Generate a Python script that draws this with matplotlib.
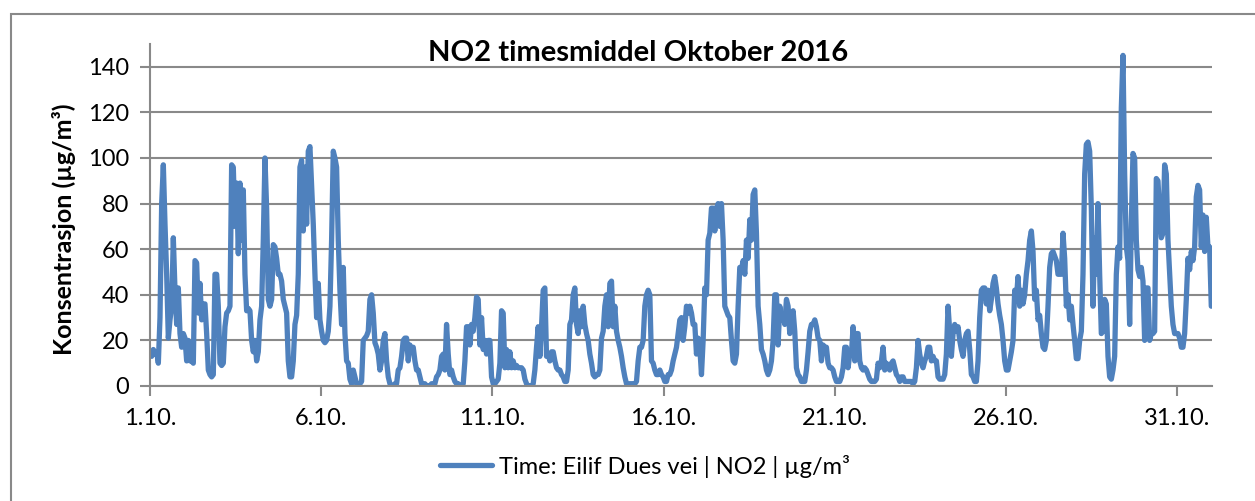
import numpy as np
import matplotlib

matplotlib.use("Agg")
import matplotlib.pyplot as plt
from matplotlib.patches import Rectangle


# Дані: NO2 (µg/m³), зчитані з графіка приблизно кожні 1.17 год
no2_part1 = [
    14, 13, 16, 14, 15, 10, 30, 80, 97, 71, 49, 21, 29, 35, 65, 42, 27, 43, 23, 17,
    23, 21, 11, 20, 11, 11, 10, 55, 54, 32, 45, 29, 36, 36, 23, 7, 5, 4, 5, 49,
    49, 35, 10, 9, 10, 26, 32, 33, 35, 97, 96, 70, 89, 58, 89, 64, 86, 49, 33, 34,
    33, 20, 15, 20, 11, 15, 29, 35, 64, 100, 78, 38, 35, 38, 62, 61, 56, 49, 49, 46,
    38, 35, 32, 11, 4, 4, 11, 27, 31, 49, 96, 99, 68, 96, 71, 103,
]
no2_part2 = [
    105, 88, 71, 49, 30, 45, 29, 24, 20, 19, 20, 24, 35, 64, 103, 100, 96, 64, 42, 27,
    52, 23, 11, 10, 3, 1, 7, 4, 1, 1, 1, 2, 20, 21, 22, 24, 38, 40, 32, 19,
    17, 14, 7, 11, 20, 23, 11, 4, 1, 0, 0, 1, 1, 7, 8, 13, 20, 21, 21, 11,
    18, 15, 17, 11, 7, 7, 4, 1, 1, 1, 0, 0, 0, 1, 0, 1, 4, 5, 7, 13,
    14, 7, 27, 14, 5, 7, 4, 2, 1, 1, 0, 0, 1, 11, 26, 26, 18, 27, 24, 30,
    39, 38, 18, 30, 16, 20, 14, 20, 20, 4, 1, 1, 2, 3,
]
no2_part3 = [
    10, 33, 32, 8, 16, 8, 15, 8, 11, 8, 9, 8, 8, 8, 7, 3, 1, 0, 0, 0,
    1, 7, 17, 26, 13, 26, 42, 43, 13, 14, 11, 15, 15, 11, 8, 7, 7, 5, 4, 2,
    2, 7, 27, 29, 40, 43, 27, 23, 33, 26, 35, 27, 23, 20, 14, 10, 5, 4, 5, 5,
    7, 21, 24, 35, 40, 26, 45, 46, 26, 35, 24, 20, 17, 13, 8, 4, 1, 1, 1, 1,
    1, 1, 2, 11, 17, 17, 20, 35, 40, 42, 40, 11, 10, 7, 5, 5, 7, 5, 4, 2,
    2, 5, 5, 7, 11, 14, 17, 23, 29, 30, 20, 26, 35, 32,
]
no2_part4 = [
    35, 32, 27, 27, 14, 21, 17, 5, 20, 43, 40, 64, 67, 78, 78, 68, 78, 80, 70, 80,
    64, 35, 33, 31, 30, 20, 11, 10, 14, 35, 52, 51, 55, 49, 64, 56, 73, 64, 84, 86,
    67, 35, 27, 16, 14, 11, 7, 5, 7, 11, 20, 40, 40, 18, 35, 29, 31, 27, 38, 35,
    23, 29, 33, 24, 8, 5, 4, 2, 2, 2, 7, 15, 24, 27, 27, 29, 26, 21, 20, 11,
    18, 17, 17, 10, 8, 8, 7, 4, 2, 2, 2, 4, 8, 17, 17, 8, 14, 14, 26, 11,
    23, 23, 11, 8, 7, 8, 7, 5, 3, 2, 2, 2, 3, 10,
]
no2_part5 = [
    8, 11, 17, 7, 10, 8, 7, 10, 11, 8, 5, 4, 2, 4, 4, 2, 2, 2, 2, 2,
    1, 2, 8, 20, 14, 10, 8, 11, 13, 17, 17, 11, 13, 11, 11, 4, 3, 3, 3, 5,
    14, 35, 24, 13, 23, 27, 24, 26, 20, 16, 13, 20, 23, 24, 16, 5, 4, 2, 2, 11,
    30, 42, 43, 43, 36, 42, 33, 38, 45, 48, 43, 36, 31, 27, 20, 11, 7, 7, 11, 15,
    20, 42, 38, 48, 35, 42, 36, 40, 49, 55, 64, 68, 59, 38, 42, 29, 31, 23, 17, 16,
    20, 35,
]
no2_part6 = [
    52, 58, 59, 57, 55, 49, 49, 49, 67, 56, 35, 40, 29, 35, 27, 20, 12, 12, 20, 24,
    49, 93, 106, 107, 103, 78, 35, 65, 49, 80, 49, 23, 24, 38, 36, 13, 4, 3, 7, 13,
    49, 61, 56, 122, 145, 93, 61, 55, 27, 71, 102, 100, 64, 51, 48, 52, 46, 20, 43, 43,
    20, 23, 23, 24, 91, 90, 75, 65, 67, 97, 93, 64, 49, 35, 27, 23, 23, 23, 21, 17,
    17, 23, 38, 56, 51, 59, 55, 61, 83, 88, 86, 61, 75, 59, 74, 61, 61, 35,
]

tick_hours = [0, 120, 240, 360, 480, 600, 720]
tick_labels = ["1.10.", "6.10.", "11.10.", "16.10.", "21.10.", "26.10.", "31.10."]
y_ticks = [0, 20, 40, 60, 80, 100, 120, 140]

title = "NO2 timesmiddel Oktober 2016"
y_label = "Konsentrasjon (µg/m³)"
legend_label = "Time: Eilif Dues vei | NO2 | µg/m³"

LINE_COLOR = "#4F81BD"
GRID_COLOR = "#898989"
FONT = ["Lato", "DejaVu Sans"]


def build_series():
    values = no2_part1 + no2_part2 + no2_part3 + no2_part4 + no2_part5 + no2_part6
    hours = np.linspace(0, 744, len(values))
    return hours, np.array(values)


def draw_chart(hours, values):
    plt.rcParams["font.family"] = FONT
    W, H = 1255, 501
    fig = plt.figure(figsize=(W / 100, H / 100), dpi=100)

    # рамка області діаграми
    fig.patches.append(
        Rectangle((11 / W, -0.1), 1.2, 1 - 14 / H + 0.1, transform=fig.transFigure,
                  fill=False, edgecolor=GRID_COLOR, linewidth=1.5)
    )

    ax = fig.add_axes([150 / W, 1 - 386 / H, (1212 - 150) / W, (386 - 44) / H])
    ax.plot(hours, values, color=LINE_COLOR, linewidth=3.8,
            solid_joinstyle="round", solid_capstyle="round", label=legend_label)

    ax.set_xlim(0, 744.5)
    ax.set_ylim(0, 150)
    ax.set_yticks(y_ticks)
    ax.set_xticks(tick_hours)
    ax.set_xticklabels(tick_labels)

    ax.grid(axis="y", color=GRID_COLOR, linewidth=1.5)
    ax.set_axisbelow(True)
    for side in ["top", "right"]:
        ax.spines[side].set_visible(False)
    for side in ["left", "bottom"]:
        ax.spines[side].set_color(GRID_COLOR)
        ax.spines[side].set_linewidth(1.5)

    ax.tick_params(axis="both", colors=GRID_COLOR, width=1.5, length=7,
                   labelcolor="black", labelsize=17)
    ax.tick_params(axis="x", pad=9)
    ax.tick_params(axis="y", pad=8)

    fig.text(638 / W, 1 - 53 / H, title, ha="center", va="center",
             fontsize=21, fontweight="bold")
    fig.text(64 / W, 1 - 229 / H, y_label, ha="center", va="center",
             rotation=90, fontsize=18, fontweight="bold")

    fig.legend(loc="center", bbox_to_anchor=(645 / W, 1 - 466 / H), frameon=False,
               fontsize=17, handlelength=2.2, handletextpad=0.3)

    fig.savefig("out.png", dpi=100)


if __name__ == "__main__":
    hours, values = build_series()
    draw_chart(hours, values)
